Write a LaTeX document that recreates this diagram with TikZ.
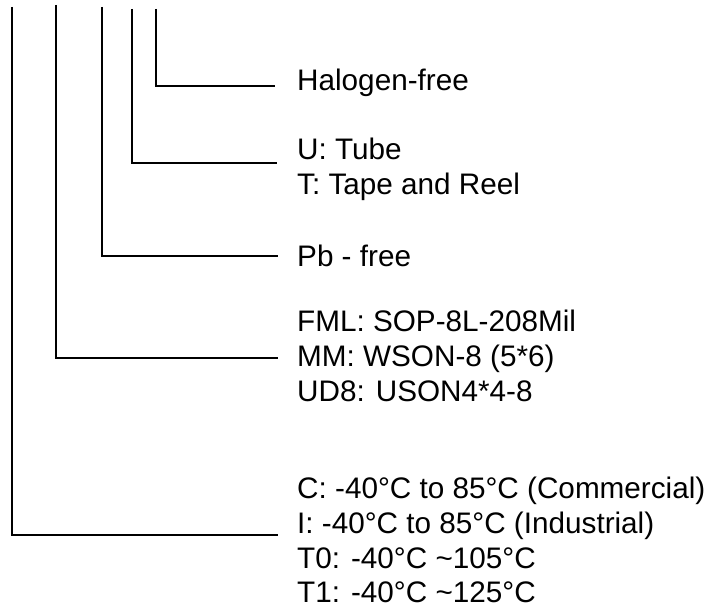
\documentclass[tikz,border=0pt]{standalone}
\usepackage{fontspec}
\setmainfont{Liberation Sans}
\usepackage{tikz}
\usetikzlibrary{positioning,calc}

\begin{document}
\begin{tikzpicture}[
        x=1bp, y=-1bp,
        lbl/.style={anchor=base west, inner sep=0pt, font=\fontsize{29.8}{35}\selectfont},
        lead/.style={line width=1.6bp}
    ]
        \useasboundingbox (0,0) rectangle (709,609);

        % Option labels
        \node[lbl] (halogen) at (297,91) {Halogen-free};
        \node[lbl] (tube) at (297,160) {U: Tube};
        \node[lbl] (reel) at (297,195) {T: Tape and Reel};
        \node[lbl] (pbfree) at (297,266) {Pb - free};
        \node[lbl] (sop) at (297,331) {FML: SOP-8L-208Mil};
        \node[lbl] (wson) at (297,366) {MM: WSON-8 (5*6)};
        \node[lbl] (uson) at (297,401) {UD8: USON4*4-8};
        \node[lbl] (comm) at (297,498) {C: -40°C to 85°C (Commercial)};
        \node[lbl] (indus) at (297,533) {I: -40°C to 85°C (Industrial)};
        \node[lbl] (tzero) at (297,568) {T0: -40°C \textasciitilde105°C};
        \node[lbl] (tone) at (297,602) {T1: -40°C \textasciitilde125°C};

        % Tops of the leader lines
        \coordinate (ttemp) at (12,7);
        \coordinate (tpkg) at (56,5);
        \coordinate (tpb) at (102,7);
        \coordinate (tpack) at (132,9);
        \coordinate (thal) at (156,9);

        % Leader lines
        \draw[lead] (thal) |- ([xshift=-22bp,yshift=5bp]halogen.base west);
        \draw[lead] (tpack) |- ([xshift=-20bp,yshift=-3bp]tube.base west);
        \draw[lead] (tpb) |- ([xshift=-19bp,yshift=10bp]pbfree.base west);
        \draw[lead] (tpkg) |- ([xshift=-19bp,yshift=8bp]wson.base west);
        \draw[lead] (ttemp) |- ([xshift=-19bp,yshift=-2bp]indus.base west);
    \end{tikzpicture}
\end{document}
